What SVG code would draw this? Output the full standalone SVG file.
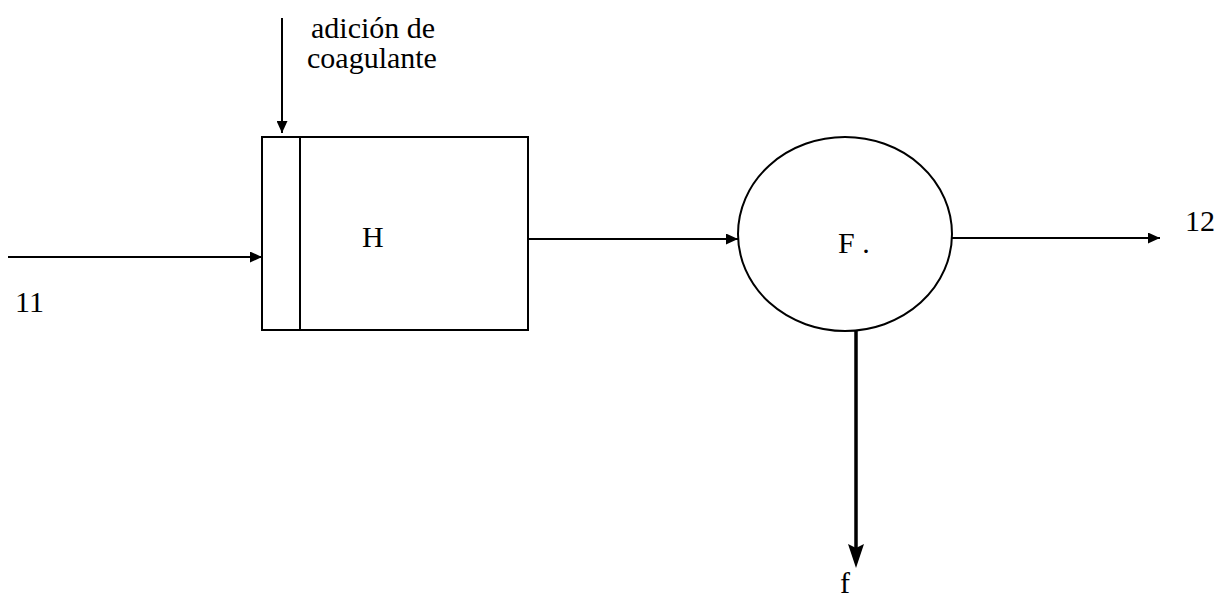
<svg xmlns="http://www.w3.org/2000/svg" width="1224" height="599" viewBox="0 0 1224 599">
<defs>
<style>
.t{font-family:"Liberation Serif","Times New Roman",serif;font-size:30px;fill:#000}
.s{stroke:#000;stroke-width:2;fill:none}
.c{stroke:#000;stroke-width:2;fill:none}
</style>
<marker id="ah" viewBox="0 0 10 10" refX="10" refY="5" markerWidth="12" markerHeight="11" markerUnits="userSpaceOnUse" orient="auto" preserveAspectRatio="none">
<path d="M0,0 L10,5 L0,10 Z" fill="#000"/>
</marker>
<marker id="ahb" viewBox="0 0 10 10" refX="10" refY="5" markerWidth="24" markerHeight="17" markerUnits="userSpaceOnUse" orient="auto" preserveAspectRatio="none">
<path d="M0,0 L10,5 L0,10 L1.5,5 Z" fill="#000"/>
</marker>
</defs>
<rect width="1224" height="599" fill="#fff"/>
<g id="node-H">
<rect x="262" y="137" width="266" height="193" class="s"/>
<line x1="300" y1="137" x2="300" y2="330" class="s"/>
<text x="362" y="247" class="t">H</text>
</g>
<g id="node-F">
<ellipse cx="845" cy="234" rx="107" ry="97" class="s"/>
<text x="838" y="253" class="t">F .</text>
</g>
<g id="connectors">
<line x1="282" y1="18" x2="282" y2="133" class="c" marker-end="url(#ah)"/>
<line x1="8" y1="257" x2="262" y2="257" class="c" marker-end="url(#ah)"/>
<line x1="528" y1="239" x2="738" y2="239" class="c" marker-end="url(#ah)"/>
<line x1="952" y1="238" x2="1160" y2="238" class="c" marker-end="url(#ah)"/>
<line x1="856" y1="331" x2="856" y2="560" stroke="#000" stroke-width="3.5"/>
<path d="M848,544 L856,568 L864,544 L856,548 Z" fill="#000"/>
</g>
<g id="labels">
<text x="311" y="38" class="t">adición de</text>
<text x="307" y="68" class="t">coagulante</text>
<text x="15" y="312" class="t">11</text>
<text x="1185" y="231" class="t">12</text>
<text x="840" y="593" class="t">f</text>
</g>
</svg>
